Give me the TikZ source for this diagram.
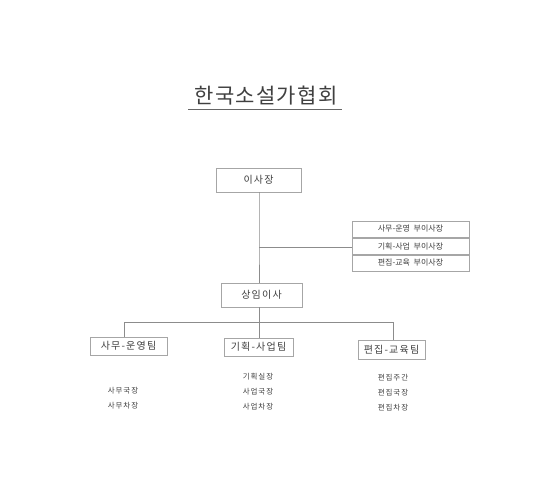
\documentclass[tikz,border=0pt]{standalone}
\usepackage{fontspec}
\newfontfamily\kr{Noto Sans CJK KR}
\newfontfamily\krsp[LetterSpace=12]{Noto Sans CJK KR}
\newfontfamily\krtitle[LetterSpace=6]{Noto Sans CJK KR}
\begin{document}
\begin{tikzpicture}[x=1pt,y=-1pt,
  ink/.style={text=black!75},
  line/.style={draw=black!45,line width=0.7pt},
  box/.style={draw=black!35,line width=0.7pt,fill=white,ink,inner sep=0pt,font=\krsp\fontsize{10}{12}\selectfont},
  vbox/.style={draw=black!35,line width=0.7pt,fill=white,ink,inner sep=0pt,minimum width=117pt,minimum height=16pt,font=\kr\fontsize{8}{10}\selectfont},
  small/.style={ink,inner sep=0pt,font=\krsp\fontsize{7.5}{9}\selectfont}]
\useasboundingbox (0,0) rectangle (556,492);
\fill[white] (0,0) rectangle (556,492);
% title
\node[ink,inner sep=0pt,font=\krtitle\fontsize{21}{24}\selectfont] (title) at (266,96) {한국소설가협회};
\coordinate (ulL) at (188,109);
\coordinate (ulR) at (342,109);
\draw[draw=black!60,line width=0.9pt] (ulL) -- (ulR);
% boxes
\node[box,minimum width=85pt,minimum height=24pt] (ceo) at (258.5,180) {이사장};
\node[vbox] (v1) at (410.5,229) {사무-운영\ \ 부이사장};
\node[vbox] (v2) at (410.5,246) {기획-사업\ \ 부이사장};
\node[vbox] (v3) at (410.5,263) {편집-교육\ \ 부이사장};
\node[box,minimum width=81pt,minimum height=24pt] (exec) at (261.5,295) {상임이사};
\node[box,minimum width=77pt,minimum height=18pt] (t1) at (128.5,346) {사무-운영팀};
\node[box,minimum width=69pt,minimum height=18pt] (t2) at (258.5,347) {기획-사업팀};
\node[box,minimum width=67pt,minimum height=19pt] (t3) at (391.5,349.5) {편집-교육팀};
% connectors
\coordinate (j1) at (259,247);
\coordinate (j2) at (259,322);
\coordinate (jl) at (124,322);
\coordinate (jr) at (393,322);
\draw[line] (ceo.south -| j1) -- (j1) -- (exec.north -| j1);
\draw[line] (j1) -- (j1 -| v2.west);
\draw[line] (exec.south -| j2) -- (j2);
\draw[line] (jl) -- (jr);
\draw[line] (jl) -- (jl |- t1.north);
\draw[line] (j2) -- (j2 |- t2.north);
\draw[line] (jr) -- (jr |- t3.north);
% staff lists
\node[small] (s1) at (123,391) {사무국장};
\node[small] (s2) at (123,406) {사무차장};
\node[small] (p1) at (258,377) {기획실장};
\node[small] (p2) at (258,392) {사업국장};
\node[small] (p3) at (258,407) {사업차장};
\node[small] (e1) at (393,378) {편집주간};
\node[small] (e2) at (393,393) {편집국장};
\node[small] (e3) at (393,408) {편집차장};
\end{tikzpicture}
\end{document}
